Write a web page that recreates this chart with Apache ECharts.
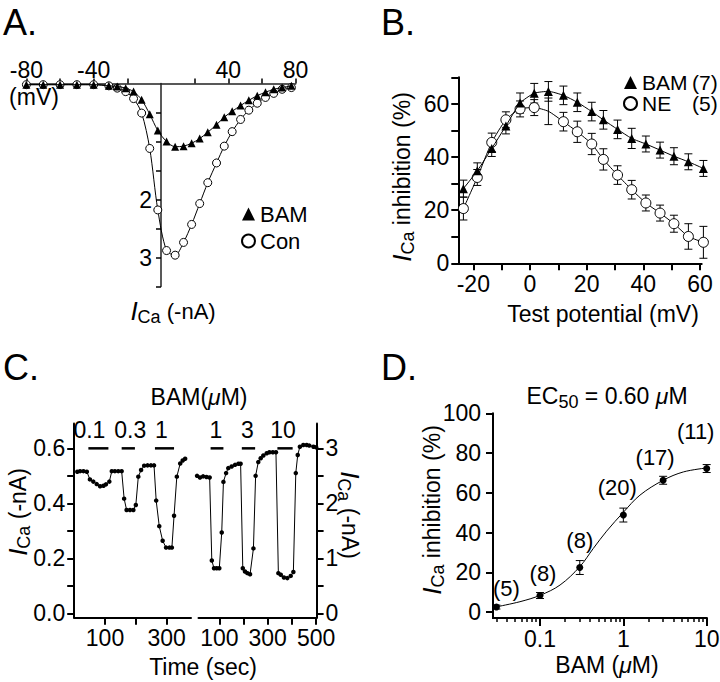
<!DOCTYPE html>
<html><head><meta charset="utf-8">
<script src="https://cdn.jsdelivr.net/npm/echarts@6/dist/echarts.min.js"></script>
<style>html,body{margin:0;padding:0;background:#fff}#c{width:720px;height:682px}</style>
</head><body><div id="c"></div>
<script>
// ---------- Panel A : I-V relation ----------
const ivVoltage = [-80,-70,-60,-50,-40,-31,-26,-21,-16.3,-11.5,-6.7,-1.9,3.3,8.4,13.4,18.2,23,27.8,33,37.6,42.3,47.3,52.2,57.2,62.1,67,72,77.5];
const ivBAM = [0.02,0.02,0.02,0.02,0.02,0.04,0.05,0.08,0.14,0.28,0.53,0.81,1.0,1.09,1.08,1.03,0.95,0.84,0.71,0.58,0.48,0.38,0.29,0.21,0.15,0.10,0.07,0.04];
const ivCon = [0.02,0.02,0.02,0.02,0.02,0.04,0.08,0.14,0.26,0.51,1.12,2.18,2.88,2.96,2.74,2.43,2.07,1.71,1.37,1.08,0.83,0.62,0.46,0.34,0.24,0.17,0.10,0.07];
const ivXTicks = [-80,-60,-40,-20,20,40,60,80];
const ivXLabels = [-80,-40,40,80];
const ivYTicks = [0.5,1,1.5,2,2.5,3,3.5];
const ivYLabels = [2,3];

// ---------- Panel B : inhibition vs test potential ----------
const tpVoltage = [-23.5,-18.6,-13.5,-8.5,-3.5,1.5,6.5,11.8,16.7,21.8,25.9,30.9,35.9,40.9,45.9,50.8,55.9,61.2];
const tpBAM = [28.1,34.8,43.2,51.7,60.3,64.0,64.7,63.2,60.6,57.1,54.0,50.4,47.0,44.9,42.6,40.3,38.2,35.7];
const tpBAMErr = [3.2,3,3,3,3.8,3.7,3.7,3.5,3.5,3.5,3.5,3.5,3.8,3,3,3.2,3,3];
const tpNE = [20.6,32.3,45.5,54.0,58.1,58.6,57.2,53.3,49.5,44.9,39.1,33.2,27.7,22.7,18.9,14.9,10.1,7.9];
const tpNEErr = [4.3,3,3.5,3,3,3,5,3.5,4,4,4,3.5,3.5,3,3,3.2,4.8,6];
const tpXTicks = [-20,-10,0,10,20,30,40,50,60];
const tpXLabels = [-20,0,20,40,60];
const tpYTicks = [0,10,20,30,40,50,60,70];
const tpYLabels = [0,20,40,60];

// ---------- Panel C : time course ----------
const timeLeft = [10,19,30,41,51,62,73,84,95,103,114,122,132,143,154,162,170,181,192,200,208,217,227,238,249,259,266,276,287,298,309,317,324,333,344,352,360];
const currentLeft = [0.515,0.517,0.517,0.515,0.487,0.479,0.47,0.462,0.464,0.469,0.479,0.517,0.517,0.517,0.517,0.417,0.376,0.376,0.376,0.394,0.497,0.521,0.537,0.538,0.538,0.538,0.41,0.317,0.264,0.239,0.239,0.239,0.355,0.497,0.545,0.556,0.562];
const timeRight = [8,20,33,47,60,69,78,89,100,110,117,128,137,151,165,179,188,197,206,216,227,241,250,261,271,282,296,307,321,334,344,354,367,381,395,406,416,424,433,447,461,472,489,500];
const currentRight = [2.50,2.47,2.49,2.48,2.47,0.96,0.82,0.82,0.82,1.47,2.39,2.55,2.64,2.67,2.70,2.72,2.72,0.82,0.76,0.73,0.71,1.18,2.50,2.75,2.82,2.87,2.91,2.93,2.93,2.93,0.73,0.70,0.65,0.64,0.68,0.75,2.55,2.88,3.03,3.06,3.06,3.05,3.03,3.02];
const appLeft = [[46,111],[154,197],[262,324]];
const appLeftConc = ['0.1','0.3','1'];
const appRight = [[64,117],[193,248],[340,403]];
const appRightConc = ['1','3','10'];
const cLeftYTicks = [0,0.1,0.2,0.3,0.4,0.5,0.6];
const cLeftYLabels = [0,0.2,0.4,0.6];
const cRightYTicks = [0,0.5,1,1.5,2,2.5,3];
const cRightYLabels = [0,1,2,3];
const cLeftXTicks = [100,200,300];
const cLeftXLabels = [100,300];
const cRightXTicks = [100,200,300,400,500];
const cRightXLabels = [100,300,500];

// ---------- Panel D : dose-response ----------
const bamConc = [0.03,0.1,0.3,1,3,10];
const bamInhibition = [2.5,8.3,22.4,48.8,66.3,72.2];
const bamInhErr = [1,1.5,3.5,3.5,2,2];
const bamCells = ['(5)','(8)','(8)','(20)','(17)','(11)'];
const fitConc = [0.0307,0.0575,0.1,0.174,0.3,0.436,0.63,1,1.58,3,5.25,10];
const fitInhibition = [2.7,5.2,8.4,13.6,22.8,32,40.7,50.2,58.8,66.3,70.5,72.5];
const dXMajor = [0.1,1,10];
const dXMinor = [0.03,0.04,0.05,0.06,0.07,0.08,0.09,0.2,0.3,0.4,0.5,0.6,0.7,0.8,0.9,2,3,4,5,6,7,8,9];
const dYTicks = [0,20,40,60,80,100];

// ---------- layout / style ----------
const FONT = '"Liberation Sans", Arial, Helvetica, sans-serif';
const BLACK = '#000';
const TICKFS = 23;
const cellLabelOffsets = [[10,1],[3,-3],[0,-8],[-6,-8],[-8,-3],[-11,-18]];
const appLabelDx = {left:[-9,2,-3], right:[-1,-1,-2]};
const hiddenNE = [6];

const zip = (a, b) => a.map((v, i) => [v, b[i]]);
const lbl = (extra) => Object.assign({color: BLACK, fontFamily: FONT, fontSize: TICKFS}, extra);
function axisLine(w){ return {show:true, onZero:false, lineStyle:{color:BLACK, width:w}}; }
function ticks(vals, len, w){ return {show:true, inside:false, length:len, customValues:vals, lineStyle:{color:BLACK, width:w||1.5}}; }

function errRender(params, api){
  const x = api.value(0), lo = api.value(1), hi = api.value(2);
  const a = api.coord([x, lo]), b = api.coord([x, hi]);
  const w = 4;
  const st = {stroke: BLACK, lineWidth: 1};
  return {type:'group', children:[
    {type:'line', shape:{x1:a[0], y1:a[1], x2:b[0], y2:b[1]}, style:st},
    {type:'line', shape:{x1:a[0]-w, y1:a[1], x2:a[0]+w, y2:a[1]}, style:st},
    {type:'line', shape:{x1:b[0]-w, y1:b[1], x2:b[0]+w, y2:b[1]}, style:st}
  ]};
}
function errData(xs, ys, es){ return xs.map((x, i) => [x, ys[i]-es[i], ys[i]+es[i]]); }

function appRender(labels, dxs){
  return function(params, api){
    const s = api.coord([api.value(0), api.value(2)]);
    const e = api.coord([api.value(1), api.value(2)]);
    const i = params.dataIndex;
    return {type:'group', children:[
      {type:'line', shape:{x1:s[0], y1:s[1], x2:e[0], y2:e[1]}, style:{stroke:BLACK, lineWidth:2.5}},
      {type:'text', x:(s[0]+e[0])/2 + dxs[i], y:s[1]-18, style:{text:labels[i], fill:BLACK, font:TICKFS+'px ' + FONT, align:'center', verticalAlign:'middle'}}
    ]};
  };
}

const richBase = (size) => ({
  i: {fill:BLACK, fontFamily:FONT, fontSize:26, fontStyle:'italic', lineHeight:30},
  s: {fill:BLACK, fontFamily:FONT, fontSize:18, lineHeight:16, verticalAlign:'bottom'},
  t: {fill:BLACK, fontFamily:FONT, fontSize:size, lineHeight:30},
  m: {fill:BLACK, fontFamily:FONT, fontSize:size, fontStyle:'italic', lineHeight:30}
});
function txt(text, x, y, rot, size){
  return {type:'text', x:x, y:y, rotation:rot||0, z:100,
    style:{text:text, rich:richBase(size||22), fill:BLACK, font:(size||22)+'px '+FONT, align:'center', verticalAlign:'middle'}};
}
function letter(t, x, y){
  return {type:'text', x:x, y:y, z:100, style:{text:t, fill:BLACK, font:'36px '+FONT, align:'left', verticalAlign:'top'}};
}

const option = {
  animation: false,
  backgroundColor: '#fff',
  textStyle: {fontFamily: FONT},
  grid: [
    {left:26.4, top:83.5, width:269.2, height:203, outerBoundsMode:'none'},
    {left:458.3, top:77.3, width:243.4, height:186, outerBoundsMode:'none'},
    {left:74.2, top:423.6, width:116.8, height:194.1, outerBoundsMode:'none'},
    {left:198.5, top:423.6, width:118.1, height:194.1, outerBoundsMode:'none'},
    {left:493, top:413.3, width:213.7, height:204.7, outerBoundsMode:'none'}
  ],
  xAxis: [
    {gridIndex:0, type:'value', min:-80, max:80, position:'top',
      axisLine:{show:true, onZero:false, lineStyle:{color:'#222', width:1.5}},
      axisTick:ticks(ivXTicks, 5), splitLine:{show:false},
      axisLabel:lbl({customValues:ivXLabels, margin:2})},
    {gridIndex:1, type:'value', min:-25.3, max:60.6, position:'bottom', axisLine:axisLine(2),
      axisTick:ticks(tpXTicks, 7, 2), splitLine:{show:false},
      axisLabel:lbl({customValues:tpXLabels, margin:9})},
    {gridIndex:2, type:'value', min:0, max:379, position:'bottom', axisLine:axisLine(2),
      axisTick:ticks(cLeftXTicks, 7, 2), splitLine:{show:false},
      axisLabel:lbl({customValues:cLeftXLabels, margin:9})},
    {gridIndex:3, type:'value', min:14, max:502, position:'bottom', axisLine:axisLine(2),
      axisTick:ticks(cRightXTicks, 7, 2), splitLine:{show:false},
      axisLabel:lbl({customValues:cRightXLabels, margin:9})},
    {gridIndex:4, type:'log', logBase:10, min:0.0273, max:10, position:'bottom', axisLine:axisLine(2),
      axisTick:ticks(dXMajor, 8, 2), splitLine:{show:false},
      axisLabel:lbl({customValues:dXMajor, margin:9, formatter:(v)=>String(+(+v).toPrecision(6))})},
    {gridIndex:4, type:'log', logBase:10, min:0.0273, max:10, position:'bottom', axisLine:axisLine(2),
      axisTick:ticks(dXMinor, 4, 1.5), splitLine:{show:false},
      axisLabel:{show:false}}
  ],
  yAxis: [
    {gridIndex:0, type:'value', min:0, max:3.5, inverse:true, position:'left', offset:-134.6,
      axisLine:{show:true, onZero:false, lineStyle:{color:'#222', width:1.5}},
      axisTick:ticks(ivYTicks, 5), splitLine:{show:false},
      axisLabel:lbl({customValues:ivYLabels, margin:9})},
    {gridIndex:1, type:'value', min:0, max:70, position:'left', axisLine:axisLine(2),
      axisTick:ticks(tpYTicks, 7, 2), splitLine:{show:false},
      axisLabel:lbl({customValues:tpYLabels, margin:9})},
    {gridIndex:2, type:'value', min:-0.016, max:0.69, position:'left', axisLine:axisLine(2),
      axisTick:ticks(cLeftYTicks, 7, 2), splitLine:{show:false},
      axisLabel:lbl({customValues:cLeftYLabels, margin:9, formatter:(v)=>(+v).toFixed(1)})},
    {gridIndex:3, type:'value', position:'right', min:-0.08, max:3.45, axisLine:axisLine(2),
      axisTick:ticks(cRightYTicks, 7, 2), splitLine:{show:false},
      axisLabel:lbl({customValues:cRightYLabels, margin:9})},
    {gridIndex:4, type:'value', min:-3, max:100, position:'left', axisLine:axisLine(2),
      axisTick:ticks(dYTicks, 7, 2), splitLine:{show:false},
      axisLabel:lbl({customValues:dYTicks, margin:12})}
  ],
  legend: [
    {left:236, top:196, orient:'vertical', itemGap:1, itemWidth:13, itemHeight:13, selectedMode:false,
      textStyle:{fontFamily:FONT, fontSize:22, color:BLACK, lineHeight:26},
      data:[{name:'BAM', icon:'triangle'}, {name:'Con', icon:'circle'}]},
    {left:618, top:67, orient:'vertical', itemGap:0, itemWidth:13, itemHeight:13, selectedMode:false,
      textStyle:{fontFamily:FONT, fontSize:21, color:BLACK, lineHeight:21,
        rich:{a:{width:50, fontSize:21, fontFamily:FONT, color:BLACK, lineHeight:21}, b:{fontSize:21, fontFamily:FONT, color:BLACK, lineHeight:21}}},
      formatter:(n)=>{ const p = n.split(' '); return '{a|'+p[0]+'}{b|'+p[1]+'}'; },
      data:[{name:'BAM (7)', icon:'triangle'}, {name:'NE (5)', icon:'circle'}]}
  ],
  series: [
    // A
    {name:'BAM', type:'line', xAxisIndex:0, yAxisIndex:0, data:zip(ivVoltage, ivBAM), smooth:0.3,
      symbol:'triangle', symbolSize:8, itemStyle:{color:BLACK}, lineStyle:{color:BLACK, width:1}, clip:false, z:3},
    {name:'Con', type:'line', xAxisIndex:0, yAxisIndex:0, data:zip(ivVoltage, ivCon), smooth:0.3,
      symbol:'circle', symbolSize:8, itemStyle:{color:'#fff', borderColor:BLACK, borderWidth:1}, lineStyle:{color:BLACK, width:1}, clip:false, z:2},
    // B
    {type:'custom', xAxisIndex:1, yAxisIndex:1, renderItem:errRender, data:errData(tpVoltage, tpBAM, tpBAMErr), clip:false, z:1},
    {type:'custom', xAxisIndex:1, yAxisIndex:1, renderItem:errRender, data:errData(tpVoltage, tpNE, tpNEErr), clip:false, z:1},
    {name:'BAM (7)', type:'line', xAxisIndex:1, yAxisIndex:1, data:zip(tpVoltage, tpBAM), smooth:0.2,
      symbol:'triangle', symbolSize:9, itemStyle:{color:BLACK}, lineStyle:{color:BLACK, width:1}, clip:false, z:3},
    {name:'NE (5)', type:'line', xAxisIndex:1, yAxisIndex:1,
      data:tpVoltage.map((x, i) => hiddenNE.includes(i) ? {value:[x, tpNE[i]], symbol:'none'} : [x, tpNE[i]]), smooth:0.2,
      symbol:'circle', symbolSize:10, itemStyle:{color:'#fff', borderColor:BLACK, borderWidth:1}, lineStyle:{color:BLACK, width:1}, clip:false, z:2},
    // C
    {type:'line', xAxisIndex:2, yAxisIndex:2, data:zip(timeLeft, currentLeft), symbol:'circle', symbolSize:4.5,
      itemStyle:{color:BLACK}, lineStyle:{color:BLACK, width:1}, clip:false},
    {type:'line', xAxisIndex:3, yAxisIndex:3, data:zip(timeRight, currentRight), symbol:'circle', symbolSize:4.5,
      itemStyle:{color:BLACK}, lineStyle:{color:BLACK, width:1}, clip:false},
    {type:'custom', xAxisIndex:2, yAxisIndex:2, renderItem:appRender(appLeftConc, appLabelDx.left),
      data:appLeft.map(b => [b[0], b[1], 0.6]), clip:false},
    {type:'custom', xAxisIndex:3, yAxisIndex:3, renderItem:appRender(appRightConc, appLabelDx.right),
      data:appRight.map(b => [b[0], b[1], 3]), clip:false},
    // D
    {type:'line', xAxisIndex:4, yAxisIndex:4, data:zip(fitConc, fitInhibition), smooth:0.35, symbol:'none',
      lineStyle:{color:BLACK, width:1}, clip:false},
    {type:'custom', xAxisIndex:4, yAxisIndex:4, renderItem:errRender, data:errData(bamConc, bamInhibition, bamInhErr), clip:false},
    {type:'scatter', xAxisIndex:4, yAxisIndex:4, symbol:'circle', symbolSize:7, itemStyle:{color:BLACK, opacity:1}, clip:false,
      data:bamConc.map((c, i) => ({value:[c, bamInhibition[i]],
        label:{show:true, position:'top', distance:5, offset:cellLabelOffsets[i], formatter:bamCells[i], color:BLACK, opacity:1, fontFamily:FONT, fontSize:22}}))}
  ],
  graphic: [
    letter('A.', 3, 4), letter('B.', 381, 4), letter('C.', 3, 349), letter('D.', 381, 349),
    {type:'text', x:34, y:97, style:{text:'(mV)', fill:BLACK, font:TICKFS+'px '+FONT, align:'center', verticalAlign:'middle'}},
    txt('{i|I}{s|Ca}{t| (-nA)}', 173, 311, 0, 22),
    txt('{i|I}{s|Ca}{t| inhibition (%)}', 402, 177, Math.PI/2, 23),
    txt('{t|Test potential (mV)}', 603, 314, 0, 23),
    txt('{t|BAM(}{m|μ}{t|M)}', 199, 397, 0, 23),
    txt('{i|I}{s|Ca}{t| (-nA)}', 18, 512, Math.PI/2, 23),
    txt('{i|I}{s|Ca}{t| (-nA)}', 350, 515, -Math.PI/2, 23),
    txt('{t|Time (sec)}', 203, 667, 0, 23),
    txt('{t|EC}{s|50}{t| = 0.60 }{m|μ}{t|M}', 607, 396, 0, 23),
    txt('{i|I}{s|Ca}{t| inhibition (%)}', 432, 510, Math.PI/2, 23),
    txt('{t|BAM (}{m|μ}{t|M)}', 607, 665, 0, 23)
  ]
};

const chart = echarts.init(document.getElementById('c'), null, {renderer:'svg', width:720, height:682});
chart.setOption(option);
</script>
</body></html>
